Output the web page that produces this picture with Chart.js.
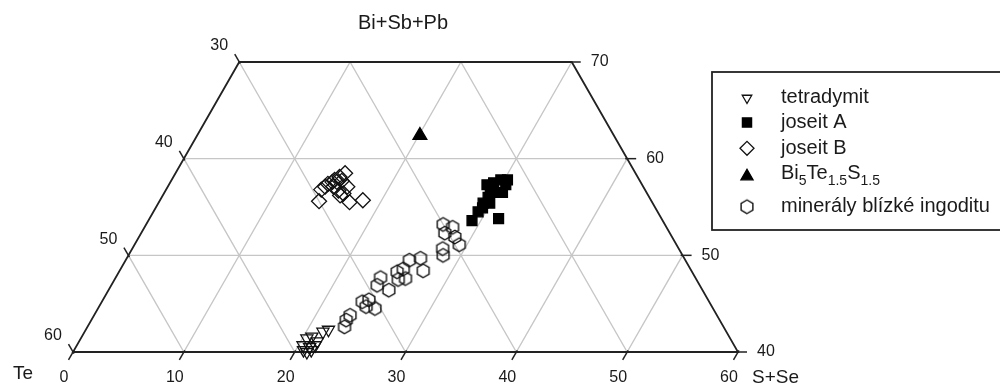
<!DOCTYPE html>
<html><head><meta charset="utf-8">
<script src="https://cdn.jsdelivr.net/npm/chart.js@4/dist/chart.umd.min.js"></script>
<style>html,body{margin:0;padding:0;background:#fff}#wrap{width:1000px;height:387px;position:relative}</style>
</head><body><div id="wrap"><canvas id="c"></canvas></div>
<script>
// Axis ticks
const bottomTicks = [0, 10, 20, 30, 40, 50, 60];   // S+Se
const leftTicks = [60, 50, 40, 30];                 // Te
const rightTicks = [40, 50, 60, 70];                // Bi+Sb+Pb
const axisTitleTop = 'Bi+Sb+Pb';
const axisTitleLeft = 'Te';
const axisTitleRight = 'S+Se';

// Data: S+Se (at.%) and Bi+Sb+Pb (at.%) per point; Te = 100 - S - Bi
const tetradymitS  = [21.5, 21.9, 20.4, 20.75, 21.5, 20.4, 21.1, 20.7, 21.4, 21.1, 21.5];
const tetradymitBi = [42.1, 42.3, 41.4, 41.6, 41.1, 40.7, 40.5, 40.2, 40.2, 40.0, 40.7];

const joseitAS  = [29.2, 31.5, 29.3, 29.3, 29.45, 29.3, 29.2, 29.7, 30.4, 30.5, 30.0, 28.7, 30.3, 29.9, 29.5];
const joseitABi = [53.6, 53.8, 54.5, 55.4, 56.0, 56.7, 57.5, 57.8, 57.3, 56.5, 56.5, 57.3, 57.8, 55.4, 54.9];

const joseitBS  = [15.3, 15.0, 14.7, 14.6, 15.0, 14.3, 14.2, 14.0, 14.95, 15.6, 16.2, 14.4, 16.0, 17.2, 18.3, 16.2, 15.4];
const joseitBBi = [58.5, 58.1, 57.8, 57.6, 57.6, 57.4, 57.1, 56.8, 57.1, 56.7, 56.4, 55.6, 56.2, 55.5, 55.7, 57.1, 57.7];

const bi5S  = [20.1];
const bi5Bi = [62.4];

const ingoditS  = [26.8, 27.8, 27.4, 28.5, 29.3, 28.0, 28.4, 26.5, 25.6, 27.4, 25.1, 25.5, 26.2, 25.6, 23.9, 24.0, 25.3, 23.5, 24.0, 24.1, 25.0, 23.1, 23.0, 23.2];
const ingoditBi = [53.2, 52.9, 52.3, 51.9, 51.1, 50.7, 50.0, 49.7, 49.5, 48.4, 48.3, 48.6, 47.6, 47.5, 47.7, 46.9, 46.4, 45.2, 45.4, 44.7, 44.5, 43.8, 43.3, 42.6];

const legendLabels = ['tetradymit', 'joseit A', 'joseit B', 'Bi5Te1.5S1.5', 'minerály blízké ingoditu'];

// ternary -> cartesian (bottom edge Bi = 40)
const BI0 = 40, H = Math.sqrt(3) / 2;
function tern(S, Bi) { return { x: S + (Bi - BI0) / 2, y: (Bi - BI0) * H }; }
function pts(Sarr, Biarr) { return Sarr.map((s, i) => tern(s, Biarr[i])); }

const INK = '#1a1a1a';
function hexCanvas(r) {
  const s = Math.ceil(2 * r + 4);
  const c = document.createElement('canvas'); c.width = s; c.height = s;
  const g = c.getContext('2d'); g.strokeStyle = '#111'; g.lineWidth = 1.4;
  g.beginPath();
  for (let i = 0; i < 6; i++) {
    const a = Math.PI / 2 + i * Math.PI / 3;
    const px = s / 2 + r * Math.cos(a), py = s / 2 + r * Math.sin(a);
    i ? g.lineTo(px, py) : g.moveTo(px, py);
  }
  g.closePath(); g.stroke();
  return c;
}
const hexImg = hexCanvas(6.8);

const FONT = '"Liberation Sans", Arial, Helvetica, sans-serif';

const ternaryPlugin = {
  id: 'ternary',
  beforeDatasetsDraw(chart) {
    const ctx = chart.ctx, xs = chart.scales.x, ys = chart.scales.y;
    const P = (S, Bi) => { const t = tern(S, Bi); return [xs.getPixelForValue(t.x), ys.getPixelForValue(t.y)]; };
    const line = (a, b) => { ctx.beginPath(); ctx.moveTo(a[0], a[1]); ctx.lineTo(b[0], b[1]); ctx.stroke(); };
    ctx.save();
    // grid
    ctx.strokeStyle = '#c6c6c6'; ctx.lineWidth = 1.4;
    [50, 60].forEach(b => line(P(0, b), P(100 - b, b)));
    [10, 20, 30, 40, 50].forEach(s => line(P(s, 40), P(s, Math.min(70, 100 - s))));
    [10, 20, 30, 40, 50].forEach(t => {
      const a = P(60 - t, 40);
      const b = t >= 30 ? P(0, 100 - t) : P(30 - t, 70);
      line(a, b);
    });
    // frame
    ctx.strokeStyle = '#222'; ctx.lineWidth = 1.8;
    ctx.beginPath();
    const f = [P(0, 40), P(60, 40), P(30, 70), P(0, 70)];
    ctx.moveTo(...f[0]); f.slice(1).forEach(p => ctx.lineTo(...p)); ctx.closePath(); ctx.stroke();
    // ticks
    const TL = 9, TI = 2;
    const tick = (p, dx, dy) => line([p[0] - dx * TI, p[1] - dy * TI], [p[0] + dx * TL, p[1] + dy * TL]);
    ctx.lineWidth = 1.5;
    ctx.fillStyle = INK; ctx.font = '16px ' + FONT; ctx.textBaseline = 'middle';
    bottomTicks.forEach(s => {
      const p = P(s, 40); tick(p, -0.5, H);
      ctx.textAlign = 'center'; ctx.fillText(String(s), p[0] - 9, 378);
    });
    leftTicks.forEach(t => {
      const p = P(0, 100 - t); tick(p, -0.5, -H);
      ctx.textAlign = 'center'; ctx.fillText(String(t), p[0] - 20, p[1] - 16);
    });
    rightTicks.forEach(b => {
      const p = P(100 - b, b); tick(p, 1, 0);
      ctx.textAlign = 'left'; ctx.fillText(String(b), p[0] + 19, p[1]);
    });
    ctx.restore();
  },
  afterDraw(chart) {
    const ctx = chart.ctx;
    ctx.save();
    ctx.fillStyle = INK; ctx.textBaseline = 'middle';
    ctx.font = '20px ' + FONT; ctx.textAlign = 'center';
    ctx.fillText(axisTitleTop, 403, 23);
    ctx.font = '19px ' + FONT; ctx.textAlign = 'left';
    ctx.fillText(axisTitleLeft, 13, 374);
    ctx.fillText(axisTitleRight, 752, 378);
    // legend box
    ctx.strokeStyle = '#222'; ctx.lineWidth = 1.8;
    ctx.strokeRect(712, 72, 300, 158);
    const sx = 747, tx = 781;
    const rows = [97, 122.5, 148.3, 173.3, 206.7];
    const ds = chart.data.datasets;
    const order = [1, 2, 3, 4, 0];
    const legR = [5.5, 6.5, 7, 7, 6];
    order.forEach((di, i) => {
      const d = ds[di];
      let y = rows[i];
      if (di === 1) y += 1;
      if (di === 4) y += 3;
      ctx.fillStyle = d.backgroundColor; ctx.strokeStyle = d.borderColor; ctx.lineWidth = d.borderWidth;
      Chart.helpers.drawPoint(ctx, { pointStyle: d.pointStyle, rotation: d.pointRotation || 0, radius: legR[i], borderWidth: d.borderWidth }, sx, y);
    });
    ctx.fillStyle = INK; ctx.textAlign = 'left';
    ctx.font = '20px ' + FONT;
    ctx.fillText(legendLabels[0], tx, rows[0]);
    ctx.fillText(legendLabels[1], tx, rows[1]);
    ctx.fillText(legendLabels[2], tx, rows[2]);
    ctx.fillText(legendLabels[4], tx, rows[4]);
    // Bi5Te1.5S1.5 with subscripts
    const parts = [['Bi', 0], ['5', 1], ['Te', 0], ['1.5', 1], ['S', 0], ['1.5', 1]];
    let x = tx;
    parts.forEach(([t, sub]) => {
      ctx.font = (sub ? '14px ' : '20px ') + FONT;
      ctx.fillText(t, x, rows[3] + (sub ? 8 : 0));
      x += ctx.measureText(t).width;
    });
    ctx.restore();
  }
};

const common = { showLine: false, clip: false, borderWidth: 1.3 };
const data = {
  datasets: [
    Object.assign({ label: legendLabels[4], data: pts(ingoditS, ingoditBi), pointStyle: hexImg, pointRadius: 6.8, backgroundColor: 'rgba(0,0,0,0)', borderColor: '#111' }, common),
    Object.assign({ label: legendLabels[0], data: pts(tetradymitS, tetradymitBi), pointStyle: 'triangle', pointRotation: 180, pointRadius: 7, backgroundColor: 'rgba(0,0,0,0)', borderColor: '#111' }, common),
    Object.assign({ label: legendLabels[1], data: pts(joseitAS, joseitABi), pointStyle: 'rect', pointRadius: 7, backgroundColor: '#000', borderColor: '#000' }, common),
    Object.assign({ label: legendLabels[2], data: pts(joseitBS, joseitBBi), pointStyle: 'rectRot', pointRadius: 7.5, backgroundColor: 'rgba(0,0,0,0)', borderColor: '#111' }, common),
    Object.assign({ label: legendLabels[3], data: pts(bi5S, bi5Bi), pointStyle: 'triangle', pointRadius: 8, backgroundColor: '#000', borderColor: '#000' }, common)
  ]
};

new Chart(document.getElementById('c'), {
  type: 'scatter',
  data,
  options: {
    responsive: true, maintainAspectRatio: false, animation: false, events: [],
    layout: { padding: { left: 73, right: 262, top: 62, bottom: 35 } },
    scales: {
      x: { type: 'linear', min: 0, max: 60, display: false },
      y: { type: 'linear', min: 0, max: 30 * H, display: false }
    },
    plugins: { legend: { display: false }, tooltip: { enabled: false } }
  },
  plugins: [ternaryPlugin]
});
</script></body></html>
